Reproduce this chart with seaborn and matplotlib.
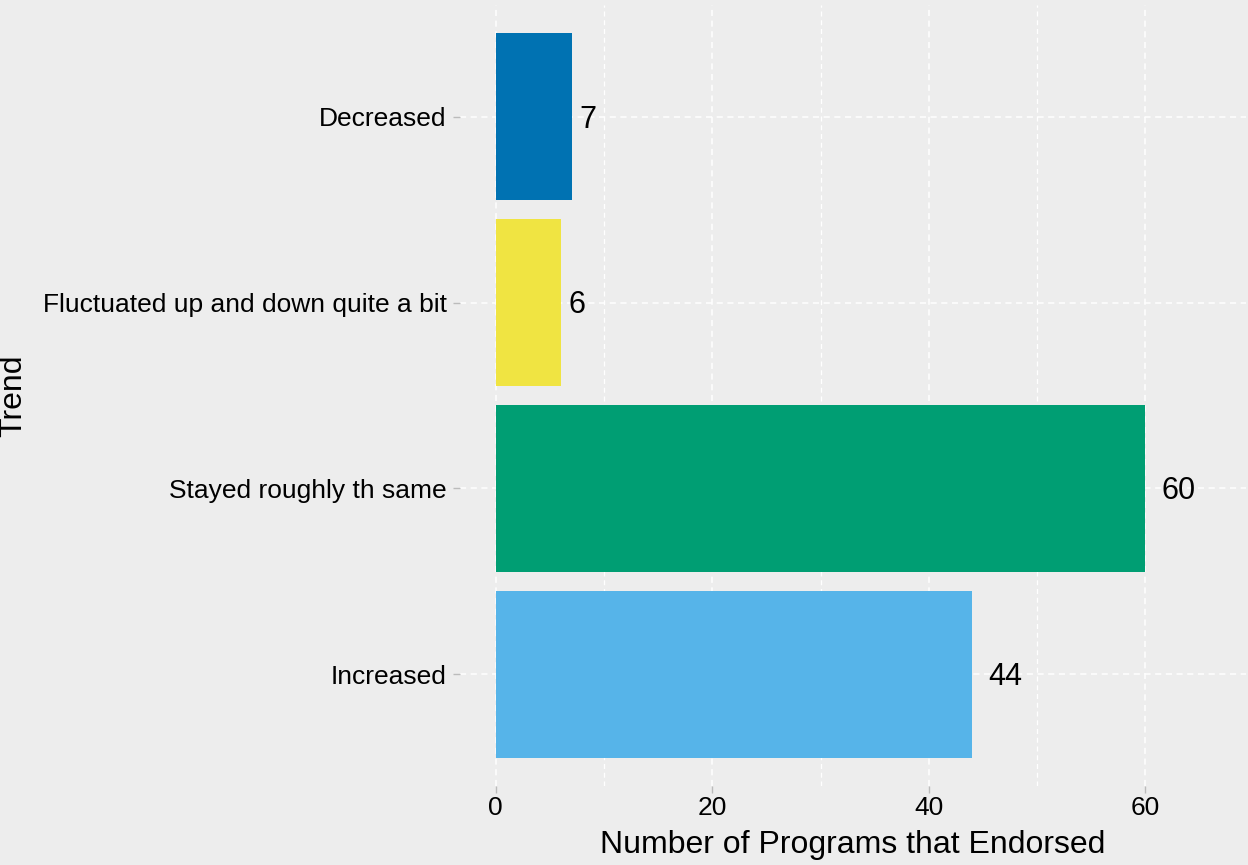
import matplotlib
matplotlib.use("Agg")
import matplotlib.pyplot as plt
import seaborn as sns
import pandas as pd
from matplotlib.ticker import MultipleLocator

# data
trend = ["Decreased", "Fluctuated up and down quite a bit",
         "Stayed roughly th same", "Increased"]
endorsed = [7, 6, 60, 44]
bar_colors = ["#0072B2", "#F0E442", "#009E73", "#56B4E9"]

df = pd.DataFrame({"Trend": trend, "Endorsed": endorsed})

bg = "#EDEDED"
sns.set_style("white")
plt.rcParams["font.family"] = ["Liberation Sans", "DejaVu Sans"]

fig = plt.figure(figsize=(12.48, 8.65), dpi=100, facecolor=bg)
ax = fig.add_axes([0.3686, 0.0918, 0.6298, 0.902])
ax.set_facecolor(bg)

sns.barplot(data=df, x="Endorsed", y="Trend", hue="Trend", palette=bar_colors,
            order=trend, hue_order=trend, legend=False, width=0.9,
            saturation=1, orient="h", ax=ax, zorder=3, linewidth=0,
            edgecolor="none")

# value labels, pushed right by half their own width (like hjust = -0.5)
for i, v in enumerate(endorsed):
    ax.annotate(str(v), xy=(v, i), xytext=(len(str(v)) * 12.0, -2),
                textcoords="offset points", ha="center", va="center",
                fontsize=22, color="black", zorder=4)

ax.set_xlim(-3.3, 69.3)
ax.set_ylim(3.6, -0.6)
ax.xaxis.set_major_locator(MultipleLocator(20))
ax.xaxis.set_minor_locator(MultipleLocator(10))
ax.grid(which="major", axis="both", color="white", linestyle=(0, (4, 3)), linewidth=1.1, zorder=0)
ax.grid(which="minor", axis="x", color="white", linestyle=(0, (4, 3)), linewidth=0.9, zorder=0)
ax.set_axisbelow(True)

for s in ax.spines.values():
    s.set_visible(False)

ax.tick_params(axis="both", which="major", length=5, width=1, color="#BBBBBB",
               labelsize=19, labelcolor="black", pad=2.5, direction="out")
ax.tick_params(axis="y", pad=4.5)
ax.tick_params(axis="x", which="minor", length=0)
ax.tick_params(axis="x", bottom=True)
ax.tick_params(axis="y", left=True)

ax.set_xlabel("Number of Programs that Endorsed", fontsize=23, labelpad=7, color="black")
ax.set_ylabel("Trend", fontsize=23, color="black")
ax.yaxis.set_label_coords(-0.549, 0.5)

fig.savefig("out.png", dpi=100, facecolor=bg)
